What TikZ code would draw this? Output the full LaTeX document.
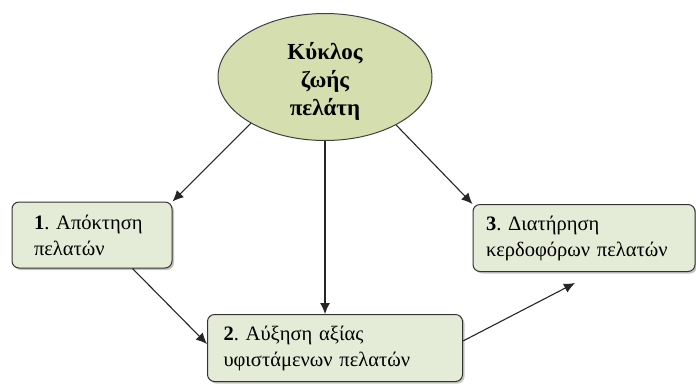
\documentclass[tikz,border=0pt]{standalone}
\usepackage{fontspec}
\setmainfont{Liberation Serif}
\frenchspacing
\usetikzlibrary{arrows.meta,shadows,shapes.geometric}
\definecolor{ellfill}{HTML}{D4DEAE}
\definecolor{boxfill}{HTML}{E4EBD6}
\tikzset{
  stepbox/.style={draw=black!80, line width=1pt, rounded corners=7pt, fill=boxfill,
    drop shadow={shadow xshift=2pt, shadow yshift=-2pt, fill=black!45},
    align=left, font=\fontsize{20.5}{26}\selectfont, inner ysep=0pt},
  conn/.style={draw=black!85, line width=1.1pt, -{Latex[length=11pt,width=10pt]}}
}
\begin{document}
\begin{tikzpicture}[x=1pt,y=-1pt]
\useasboundingbox (0,0) rectangle (696,384);
\node[ellipse, draw=black!75, line width=1pt, fill=ellfill, minimum width=214pt, minimum height=127pt,
  inner sep=0pt] (e) at (325,77) {};
\node[align=center, font=\bfseries\fontsize{23}{28}\selectfont] (et) at (325,81) {Κύκλος\\ζωής\\πελάτη};
\node[stepbox, minimum width=160pt, minimum height=66pt, inner xsep=22pt, text width=116pt] (b1) at (92,235) {\textbf{1}. Απόκτηση\\πελατών};
\node[stepbox, minimum width=255pt, minimum height=67pt, inner xsep=16pt, text width=223pt] (b2) at (335,348) {\textbf{2}. Αύξηση αξίας\\υφιστάμενων πελατών};
\node[stepbox, minimum width=222pt, minimum height=67pt, inner xsep=13pt, text width=196pt] (b3) at (584,238) {\textbf{3}. Διατήρηση\\κερδοφόρων πελατών};
\coordinate (a3) at (575,283);
\draw[conn] (e.212) -- (b1.north east);
\draw[conn] (e.south) -- (b2.north -| e.south);
\draw[conn] (e.326) -- (b3.north west);
\draw[conn] (b1.south east) ++(-40,0) -- ([yshift=4pt]b2.west);
\draw[conn] ([yshift=7pt]b2.east) -- (a3);
\end{tikzpicture}
\end{document}
